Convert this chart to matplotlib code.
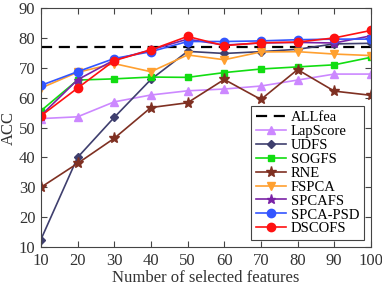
import numpy as np
from matplotlib import pyplot as plt

plt.rcParams['font.family'] = ['Liberation Serif', 'DejaVu Serif']
plt.rcParams['mathtext.fontset'] = 'stix'

### Data
nFeat = [10, 20, 30, 40, 50, 60, 70, 80, 90, 100]
allFea = [77.0] * len(nFeat)
lapScore = [53.0, 53.6, 58.6, 60.9, 62.3, 62.9, 63.9, 65.9, 67.9, 67.9]
udfs = [12.5, 40.0, 53.4, 66.1, 75.5, 74.8, 75.4, 76.2, 78.0, 78.2]
sogfs = [55.6, 65.9, 66.3, 66.9, 66.8, 68.4, 69.6, 70.3, 71.0, 73.5]
rne = [30.0, 38.0, 46.4, 56.7, 58.3, 66.1, 59.4, 69.4, 62.2, 60.8]
fspca = [63.2, 68.5, 71.4, 68.7, 74.3, 72.7, 75.3, 75.4, 74.6, 74.1]
spcafs = [54.0, 66.0, 72.6, 76.0, 79.6, 77.6, 78.3, 78.5, 78.3, 80.7]
spcaPsd = [64.1, 68.7, 73.1, 75.4, 78.8, 78.8, 79.0, 79.4, 79.6, 79.6]
dscofs = [53.9, 63.2, 72.4, 76.0, 80.5, 77.4, 78.4, 78.6, 80.0, 82.5]

# Plot
fig = plt.figure(figsize=(3.82, 2.87), dpi=100)
ax = fig.add_axes([0.107, 0.139, 0.864, 0.833])
ax.plot(nFeat, allFea, '--', color='k', lw=1.6, dashes=(5, 3), label='ALLfea')
ax.plot(nFeat, lapScore, '-^', color='#cc88ff', lw=1.2, ms=6, label='LapScore')
ax.plot(nFeat, udfs, '-D', color='#3f3f6e', lw=1.2, ms=4.5, label='UDFS')
ax.plot(nFeat, sogfs, '-s', color='#11dd11', lw=1.2, ms=5, label='SOGFS')
ax.plot(nFeat, rne, '-*', color='#7f3022', lw=1.2, ms=8, label='RNE')
ax.plot(nFeat, fspca, '-v', color='#ffa030', lw=1.2, ms=6, label='FSPCA')
ax.plot(nFeat, spcafs, '-*', color='#7a22a6', lw=1.2, ms=6.5, label='SPCAFS')
ax.plot(nFeat, spcaPsd, '-o', color='#3355ff', lw=1.2, ms=6, label='SPCA-PSD')
ax.plot(nFeat, dscofs, '-o', color='#ff1111', lw=1.2, ms=6, label='DSCOFS')

ax.set_xlim(10, 100)
ax.set_ylim(10, 90)
ax.set_xticks(nFeat)
ax.set_yticks(np.arange(10, 91, 10))
ax.tick_params(direction='in', top=True, right=True, labelsize=12, length=4,
               color='#444444', labelcolor='#333333', pad=4)
for s in ax.spines.values():
    s.set_color('#444444')
ax.set_xlabel('Number of selected features', fontsize=12, color='#333333', labelpad=1)
ax.set_ylabel('ACC', fontsize=12, color='#333333', labelpad=1)
leg = ax.legend(loc='lower right', fontsize=10.5, labelspacing=0.05, handlelength=2.1,
                handletextpad=0.3, borderpad=0.3, fancybox=False, framealpha=1,
                borderaxespad=0.5)
leg.get_frame().set_edgecolor('#444444')
leg.get_frame().set_linewidth(0.8)
fig.savefig('out.png')
